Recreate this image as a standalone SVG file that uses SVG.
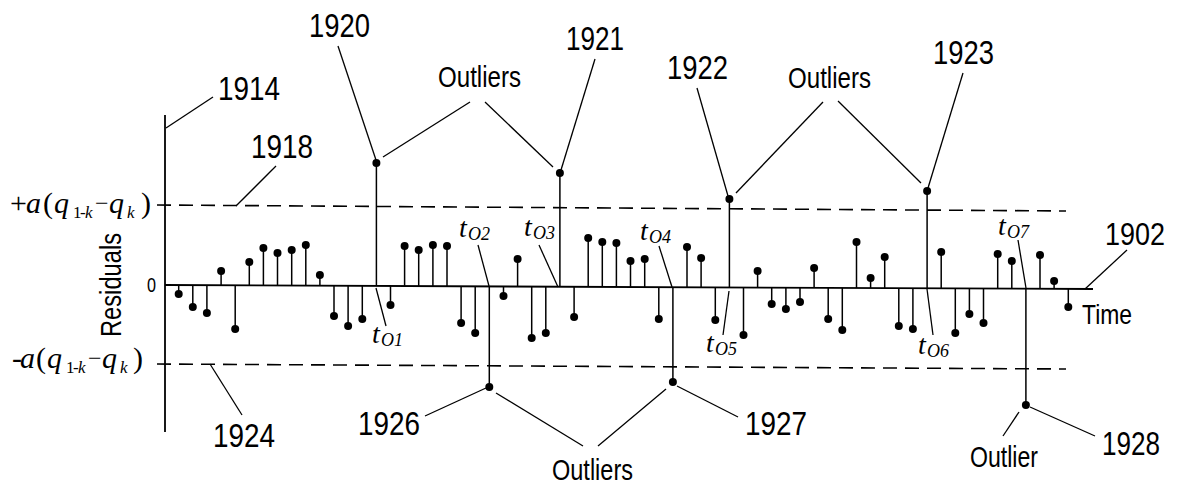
<svg xmlns="http://www.w3.org/2000/svg" width="1177" height="487" viewBox="0 0 1177 487">
<style>
.ln{stroke:#000;stroke-width:1.5;fill:none}
.ax{stroke:#000;stroke-width:1.8;fill:none}
.ld{stroke:#000;stroke-width:1.3;fill:none}
.ds{stroke:#000;stroke-width:1.6;fill:none;stroke-dasharray:14 8}
.dt{fill:#000}
.sans{font-family:"Liberation Sans",Arial,sans-serif;fill:#000}
.num{font-size:33px}
.wd{font-size:30px}
.ser{font-family:"Liberation Serif","Times New Roman",serif;fill:#000}
.it{font-style:italic}
.tm{font-size:28px}
.sb{font-size:18px}
.ss{font-size:17px}
</style>
<rect width="1177" height="487" fill="#fff"/>

<g id="axes">
<line class="ax" x1="165" y1="115" x2="165" y2="432"/>
<line class="ax" x1="165" y1="285" x2="1093" y2="289"/>
<line class="ds" x1="157" y1="205" x2="1066" y2="211"/>
<line class="ds" x1="157" y1="364" x2="1066" y2="369"/>
</g>

<g id="axis-labels">
<text class="sans" x="147" y="292" font-size="21" textLength="9" lengthAdjust="spacingAndGlyphs">0</text>
<text class="sans" font-size="30" text-anchor="middle" transform="translate(121,285) rotate(-90)" textLength="104" lengthAdjust="spacingAndGlyphs">Residuals</text>
<text class="sans" x="1082" y="324" font-size="28" textLength="50" lengthAdjust="spacingAndGlyphs">Time</text>
<text class="ser" font-size="30"><tspan x="10" y="213">+</tspan><tspan class="it" x="26" y="213">a</tspan><tspan x="43" y="213">(</tspan><tspan class="it" x="54" y="213">q</tspan><tspan class="ss" x="73" y="218">1</tspan><tspan class="ss" x="80" y="218">-</tspan><tspan class="ss it" x="85" y="218">k</tspan><tspan x="95" y="211" font-size="24">−</tspan><tspan class="it" x="109" y="213">q</tspan><tspan class="ss it" x="127" y="218">k</tspan><tspan x="141" y="213">)</tspan></text>
<text class="ser" font-size="30"><tspan x="12" y="368">-</tspan><tspan class="it" x="20" y="368">a</tspan><tspan x="36" y="368">(</tspan><tspan class="it" x="47" y="368">q</tspan><tspan class="ss" x="66" y="373">1</tspan><tspan class="ss" x="73" y="373">-</tspan><tspan class="ss it" x="78" y="373">k</tspan><tspan x="88" y="366" font-size="24">−</tspan><tspan class="it" x="102" y="368">q</tspan><tspan class="ss it" x="120" y="373">k</tspan><tspan x="133" y="368">)</tspan></text>
</g>

<g id="residuals">
<line class="ln" x1="178.7" y1="285.1" x2="178.7" y2="294"/><circle class="dt" cx="178.7" cy="294" r="4"/>
<line class="ln" x1="192.8" y1="285.1" x2="192.8" y2="307"/><circle class="dt" cx="192.8" cy="307" r="4"/>
<line class="ln" x1="206.9" y1="285.2" x2="206.9" y2="313"/><circle class="dt" cx="206.9" cy="313" r="4"/>
<line class="ln" x1="221.1" y1="285.2" x2="221.1" y2="271"/><circle class="dt" cx="221.1" cy="271" r="4"/>
<line class="ln" x1="235.2" y1="285.3" x2="235.2" y2="329"/><circle class="dt" cx="235.2" cy="329" r="4"/>
<line class="ln" x1="249.3" y1="285.4" x2="249.3" y2="262"/><circle class="dt" cx="249.3" cy="262" r="4"/>
<line class="ln" x1="263.4" y1="285.4" x2="263.4" y2="248"/><circle class="dt" cx="263.4" cy="248" r="4"/>
<line class="ln" x1="277.5" y1="285.5" x2="277.5" y2="253"/><circle class="dt" cx="277.5" cy="253" r="4"/>
<line class="ln" x1="291.7" y1="285.5" x2="291.7" y2="250"/><circle class="dt" cx="291.7" cy="250" r="4"/>
<line class="ln" x1="305.8" y1="285.6" x2="305.8" y2="245"/><circle class="dt" cx="305.8" cy="245" r="4"/>
<line class="ln" x1="319.9" y1="285.7" x2="319.9" y2="275"/><circle class="dt" cx="319.9" cy="275" r="4"/>
<line class="ln" x1="334.0" y1="285.7" x2="334.0" y2="316"/><circle class="dt" cx="334.0" cy="316" r="4"/>
<line class="ln" x1="348.1" y1="285.8" x2="348.1" y2="326"/><circle class="dt" cx="348.1" cy="326" r="4"/>
<line class="ln" x1="362.3" y1="285.8" x2="362.3" y2="319"/><circle class="dt" cx="362.3" cy="319" r="4"/>
<line class="ln" x1="390.5" y1="286.0" x2="390.5" y2="305"/><circle class="dt" cx="390.5" cy="305" r="4"/>
<line class="ln" x1="404.6" y1="286.0" x2="404.6" y2="246"/><circle class="dt" cx="404.6" cy="246" r="4"/>
<line class="ln" x1="418.7" y1="286.1" x2="418.7" y2="250"/><circle class="dt" cx="418.7" cy="250" r="4"/>
<line class="ln" x1="432.9" y1="286.2" x2="432.9" y2="245"/><circle class="dt" cx="432.9" cy="245" r="4"/>
<line class="ln" x1="447.0" y1="286.2" x2="447.0" y2="246"/><circle class="dt" cx="447.0" cy="246" r="4"/>
<line class="ln" x1="461.1" y1="286.3" x2="461.1" y2="323"/><circle class="dt" cx="461.1" cy="323" r="4"/>
<line class="ln" x1="475.2" y1="286.3" x2="475.2" y2="333"/><circle class="dt" cx="475.2" cy="333" r="4"/>
<line class="ln" x1="503.5" y1="286.5" x2="503.5" y2="296"/><circle class="dt" cx="503.5" cy="296" r="4"/>
<line class="ln" x1="517.6" y1="286.5" x2="517.6" y2="259"/><circle class="dt" cx="517.6" cy="259" r="4"/>
<line class="ln" x1="531.7" y1="286.6" x2="531.7" y2="338"/><circle class="dt" cx="531.7" cy="338" r="4"/>
<line class="ln" x1="545.8" y1="286.6" x2="545.8" y2="333"/><circle class="dt" cx="545.8" cy="333" r="4"/>
<line class="ln" x1="574.1" y1="286.8" x2="574.1" y2="317"/><circle class="dt" cx="574.1" cy="317" r="4"/>
<line class="ln" x1="588.2" y1="286.8" x2="588.2" y2="238"/><circle class="dt" cx="588.2" cy="238" r="4"/>
<line class="ln" x1="602.3" y1="286.9" x2="602.3" y2="242"/><circle class="dt" cx="602.3" cy="242" r="4"/>
<line class="ln" x1="616.4" y1="286.9" x2="616.4" y2="243"/><circle class="dt" cx="616.4" cy="243" r="4"/>
<line class="ln" x1="630.5" y1="287.0" x2="630.5" y2="261"/><circle class="dt" cx="630.5" cy="261" r="4"/>
<line class="ln" x1="644.7" y1="287.1" x2="644.7" y2="259"/><circle class="dt" cx="644.7" cy="259" r="4"/>
<line class="ln" x1="658.8" y1="287.1" x2="658.8" y2="319"/><circle class="dt" cx="658.8" cy="319" r="4"/>
<line class="ln" x1="687.0" y1="287.2" x2="687.0" y2="247"/><circle class="dt" cx="687.0" cy="247" r="4"/>
<line class="ln" x1="701.1" y1="287.3" x2="701.1" y2="258"/><circle class="dt" cx="701.1" cy="258" r="4"/>
<line class="ln" x1="715.3" y1="287.4" x2="715.3" y2="320"/><circle class="dt" cx="715.3" cy="320" r="4"/>
<line class="ln" x1="743.5" y1="287.5" x2="743.5" y2="335"/><circle class="dt" cx="743.5" cy="335" r="4"/>
<line class="ln" x1="757.6" y1="287.5" x2="757.6" y2="271"/><circle class="dt" cx="757.6" cy="271" r="4"/>
<line class="ln" x1="771.7" y1="287.6" x2="771.7" y2="304"/><circle class="dt" cx="771.7" cy="304" r="4"/>
<line class="ln" x1="785.9" y1="287.7" x2="785.9" y2="309"/><circle class="dt" cx="785.9" cy="309" r="4"/>
<line class="ln" x1="800.0" y1="287.7" x2="800.0" y2="302"/><circle class="dt" cx="800.0" cy="302" r="4"/>
<line class="ln" x1="814.1" y1="287.8" x2="814.1" y2="268"/><circle class="dt" cx="814.1" cy="268" r="4"/>
<line class="ln" x1="828.2" y1="287.9" x2="828.2" y2="319"/><circle class="dt" cx="828.2" cy="319" r="4"/>
<line class="ln" x1="842.3" y1="287.9" x2="842.3" y2="330"/><circle class="dt" cx="842.3" cy="330" r="4"/>
<line class="ln" x1="856.5" y1="288.0" x2="856.5" y2="242"/><circle class="dt" cx="856.5" cy="242" r="4"/>
<line class="ln" x1="870.6" y1="288.0" x2="870.6" y2="278"/><circle class="dt" cx="870.6" cy="278" r="4"/>
<line class="ln" x1="884.7" y1="288.1" x2="884.7" y2="257"/><circle class="dt" cx="884.7" cy="257" r="4"/>
<line class="ln" x1="898.8" y1="288.2" x2="898.8" y2="326"/><circle class="dt" cx="898.8" cy="326" r="4"/>
<line class="ln" x1="912.9" y1="288.2" x2="912.9" y2="329"/><circle class="dt" cx="912.9" cy="329" r="4"/>
<line class="ln" x1="941.2" y1="288.3" x2="941.2" y2="252"/><circle class="dt" cx="941.2" cy="252" r="4"/>
<line class="ln" x1="955.3" y1="288.4" x2="955.3" y2="333"/><circle class="dt" cx="955.3" cy="333" r="4"/>
<line class="ln" x1="969.4" y1="288.5" x2="969.4" y2="314"/><circle class="dt" cx="969.4" cy="314" r="4"/>
<line class="ln" x1="983.5" y1="288.5" x2="983.5" y2="323"/><circle class="dt" cx="983.5" cy="323" r="4"/>
<line class="ln" x1="997.7" y1="288.6" x2="997.7" y2="254"/><circle class="dt" cx="997.7" cy="254" r="4"/>
<line class="ln" x1="1011.8" y1="288.6" x2="1011.8" y2="261"/><circle class="dt" cx="1011.8" cy="261" r="4"/>
<line class="ln" x1="1040.0" y1="288.8" x2="1040.0" y2="255"/><circle class="dt" cx="1040.0" cy="255" r="4"/>
<line class="ln" x1="1054.1" y1="288.8" x2="1054.1" y2="281"/><circle class="dt" cx="1054.1" cy="281" r="4"/>
<line class="ln" x1="1068.3" y1="288.9" x2="1068.3" y2="307"/><circle class="dt" cx="1068.3" cy="307" r="4"/>
</g>

<g id="outlier-1920"><line class="ln" x1="376.4" y1="285.9" x2="376.4" y2="163"/><circle class="dt" cx="376.4" cy="163" r="4"/></g>
<g id="outlier-1926"><line class="ln" x1="489.3" y1="286.4" x2="489.3" y2="387"/><circle class="dt" cx="489.3" cy="387" r="4"/></g>
<g id="outlier-1921"><line class="ln" x1="559.9" y1="286.7" x2="559.9" y2="173"/><circle class="dt" cx="559.9" cy="173" r="4"/></g>
<g id="outlier-1927"><line class="ln" x1="672.9" y1="287.2" x2="672.9" y2="382"/><circle class="dt" cx="672.9" cy="382" r="4"/></g>
<g id="outlier-1922"><line class="ln" x1="729.4" y1="287.4" x2="729.4" y2="199"/><circle class="dt" cx="729.4" cy="199" r="4"/></g>
<g id="outlier-1923"><line class="ln" x1="927.1" y1="288.3" x2="927.1" y2="191"/><circle class="dt" cx="927.1" cy="191" r="4"/></g>
<g id="outlier-1928"><line class="ln" x1="1025.9" y1="288.7" x2="1025.9" y2="405"/><circle class="dt" cx="1025.9" cy="405" r="4"/></g>

<g id="connectors">
<line class="ld" x1="166" y1="128" x2="213" y2="97"/>
<line class="ld" x1="276" y1="166" x2="236" y2="206"/>
<line class="ld" x1="338" y1="46" x2="376" y2="160"/>
<line class="ld" x1="383" y1="157" x2="470" y2="102"/>
<line class="ld" x1="485" y1="102" x2="553" y2="167"/>
<line class="ld" x1="595" y1="59" x2="561" y2="170"/>
<line class="ld" x1="697" y1="88" x2="728" y2="196"/>
<line class="ld" x1="823" y1="102" x2="736" y2="193"/>
<line class="ld" x1="838" y1="101" x2="921" y2="183"/>
<line class="ld" x1="963" y1="73" x2="928" y2="188"/>
<line class="ld" x1="1085" y1="289" x2="1127" y2="250"/>
<line class="ld" x1="210" y1="364" x2="242" y2="415"/>
<line class="ld" x1="425" y1="416" x2="486" y2="388"/>
<line class="ld" x1="496" y1="393" x2="583" y2="446"/>
<line class="ld" x1="598" y1="446" x2="666" y2="389"/>
<line class="ld" x1="677" y1="386" x2="738" y2="417"/>
<line class="ld" x1="1003" y1="436" x2="1019" y2="412"/>
<line class="ld" x1="1030" y1="407" x2="1095" y2="436"/>
<line class="ld" x1="376" y1="288" x2="386" y2="326"/>
<line class="ld" x1="478" y1="245" x2="489" y2="286"/>
<line class="ld" x1="539" y1="245" x2="558" y2="287"/>
<line class="ld" x1="659" y1="246" x2="672" y2="287"/>
<line class="ld" x1="729" y1="291" x2="723" y2="335"/>
<line class="ld" x1="927" y1="289" x2="933" y2="335"/>
<line class="ld" x1="1018" y1="240" x2="1026" y2="288"/>
</g>

<g id="labels">
<text class="sans num" x="218" y="100" textLength="62" lengthAdjust="spacingAndGlyphs">1914</text>
<text class="sans num" x="251" y="158" textLength="62" lengthAdjust="spacingAndGlyphs">1918</text>
<text class="sans num" x="309" y="37" textLength="61" lengthAdjust="spacingAndGlyphs">1920</text>
<text class="sans num" x="566" y="50" textLength="58" lengthAdjust="spacingAndGlyphs">1921</text>
<text class="sans num" x="667" y="79" textLength="61" lengthAdjust="spacingAndGlyphs">1922</text>
<text class="sans num" x="933" y="64" textLength="61" lengthAdjust="spacingAndGlyphs">1923</text>
<text class="sans" x="1105" y="245" font-size="31" textLength="60" lengthAdjust="spacingAndGlyphs">1902</text>
<text class="sans num" x="213" y="447" textLength="62" lengthAdjust="spacingAndGlyphs">1924</text>
<text class="sans num" x="358" y="435" textLength="62" lengthAdjust="spacingAndGlyphs">1926</text>
<text class="sans num" x="745" y="435" textLength="62" lengthAdjust="spacingAndGlyphs">1927</text>
<text class="sans num" x="1102" y="455" textLength="58" lengthAdjust="spacingAndGlyphs">1928</text>
<text class="sans wd" x="438" y="87" textLength="83" lengthAdjust="spacingAndGlyphs">Outliers</text>
<text class="sans wd" x="788" y="88" textLength="83" lengthAdjust="spacingAndGlyphs">Outliers</text>
<text class="sans wd" x="552" y="480" textLength="81" lengthAdjust="spacingAndGlyphs">Outliers</text>
<text class="sans" x="970" y="467" font-size="29" textLength="68" lengthAdjust="spacingAndGlyphs">Outlier</text>
</g>

<g id="time-labels" class="ser it">
<text><tspan class="tm" x="372" y="343">t</tspan><tspan class="sb" x="381" y="346">O1</tspan></text>
<text><tspan class="tm" x="459" y="237">t</tspan><tspan class="sb" x="468" y="240">O2</tspan></text>
<text><tspan class="tm" x="524" y="236">t</tspan><tspan class="sb" x="533" y="239">O3</tspan></text>
<text><tspan class="tm" x="640" y="240">t</tspan><tspan class="sb" x="649" y="243">O4</tspan></text>
<text><tspan class="tm" x="706" y="352">t</tspan><tspan class="sb" x="715" y="355">O5</tspan></text>
<text><tspan class="tm" x="918" y="354">t</tspan><tspan class="sb" x="927" y="357">O6</tspan></text>
<text><tspan class="tm" x="998" y="235">t</tspan><tspan class="sb" x="1007" y="238">O7</tspan></text>
</g>
</svg>
